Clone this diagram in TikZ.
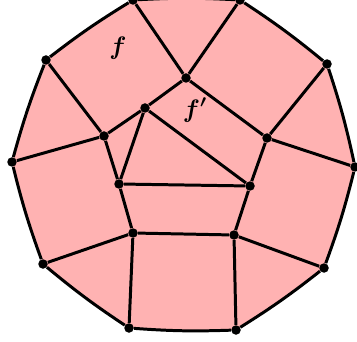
\documentclass[tikz,border=0pt]{standalone}
\usepackage{amsmath}
\usepackage{tikz}
\usetikzlibrary{backgrounds}

\begin{document}
\begin{tikzpicture}[
  x=0.02cm, y=0.02cm,
  font=\Large,
  vtx/.style={circle, fill=black, inner sep=0pt, minimum size=0.19cm},
  edge/.style={line width=1.7pt, line join=round},
  rim/.style={edge, bend left=3}
]
\useasboundingbox (0,0) rectangle (357,341);

% outer vertices
\node[vtx] (o1) at (133,341) {};
\node[vtx] (o2) at (240,341) {};
\node[vtx] (o3) at (327,277) {};
\node[vtx] (o4) at (355,174) {};
\node[vtx] (o5) at (324,73) {};
\node[vtx] (o6) at (236,11) {};
\node[vtx] (o7) at (129,13) {};
\node[vtx] (o8) at (43,77) {};
\node[vtx] (o9) at (12,179) {};
\node[vtx] (o10) at (46,281) {};

% inner vertices
\node[vtx] (top) at (186,263) {};
\node[vtx] (tri) at (145,233) {};
\node[vtx] (lft) at (104,205) {};
\node[vtx] (rgt) at (267,203) {};
\node[vtx] (tl) at (119,157) {};
\node[vtx] (tr) at (250,155) {};
\node[vtx] (bl) at (133,108) {};
\node[vtx] (br) at (234,106) {};

% face
\begin{scope}[on background layer]
\fill[red!30] (o1.center) to[bend left=3] (o2.center) to[bend left=3] (o3.center)
  to[bend left=3] (o4.center) to[bend left=3] (o5.center) to[bend left=3] (o6.center)
  to[bend left=3] (o7.center) to[bend left=3] (o8.center) to[bend left=3] (o9.center)
  to[bend left=3] (o10.center) to[bend left=3] (o1.center) -- cycle;
\end{scope}

% outer cycle
\draw[rim] (o1) to (o2);
\draw[rim] (o2) to (o3);
\draw[rim] (o3) to (o4);
\draw[rim] (o4) to (o5);
\draw[rim] (o5) to (o6);
\draw[rim] (o6) to (o7);
\draw[rim] (o7) to (o8);
\draw[rim] (o8) to (o9);
\draw[rim] (o9) to (o10);
\draw[rim] (o10) to (o1);

% spokes
\draw[edge] (o1) -- (top);
\draw[edge] (o2) -- (top);
\draw[edge] (o3) -- (rgt);
\draw[edge] (o4) -- (rgt);
\draw[edge] (o5) -- (br);
\draw[edge] (o6) -- (br);
\draw[edge] (o7) -- (bl);
\draw[edge] (o8) -- (bl);
\draw[edge] (o9) -- (lft);
\draw[edge] (o10) -- (lft);

% inside
\draw[edge] (top) -- (tri);
\draw[edge] (tri) -- (lft);
\draw[edge] (top) -- (rgt);
\draw[edge] (rgt) -- (tr);
\draw[edge] (lft) -- (tl);
\draw[edge] (tri) -- (tl);
\draw[edge] (tri) -- (tr);
\draw[edge] (tl) -- (tr);
\draw[edge] (tl) -- (bl);
\draw[edge] (tr) -- (br);
\draw[edge] (bl) -- (br);

\node (f) at (118,293) {$\boldsymbol{f}$};
\node (fp) at (195,231) {$\boldsymbol{f'}$};
\end{tikzpicture}
\end{document}
